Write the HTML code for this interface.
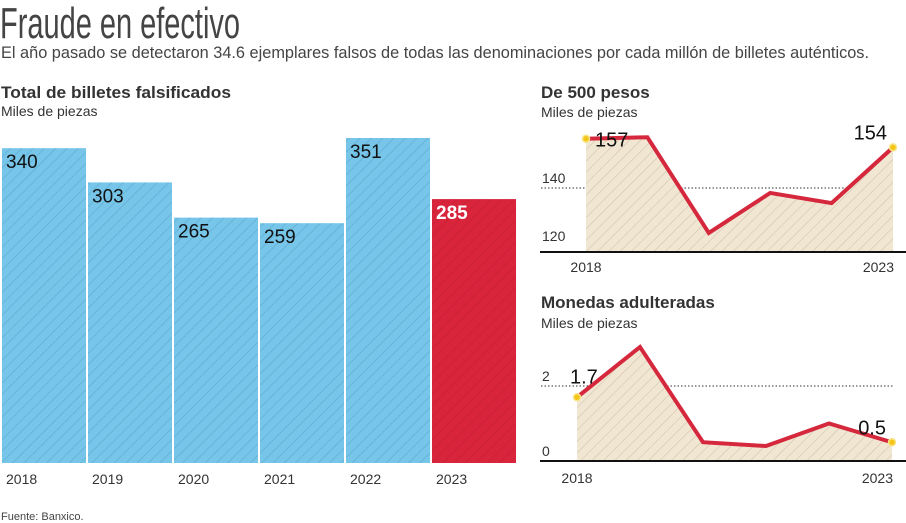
<!DOCTYPE html>
<html><head><meta charset="utf-8"><style>
html,body{margin:0;padding:0;background:#fff;width:906px;height:523px;overflow:hidden}
svg{display:block;font-family:"Liberation Sans",sans-serif}
</style></head><body>
<svg id="c" width="906" height="523" viewBox="0 0 906 523">
<defs>
<pattern id="hb" patternUnits="userSpaceOnUse" width="8" height="8" patternTransform="rotate(45)"><rect width="8" height="8" fill="#77c6ea"/><line x1="0" y1="0" x2="0" y2="8" stroke="#5aa9cf" stroke-width="1.2"/></pattern>
<pattern id="hr" patternUnits="userSpaceOnUse" width="8" height="8" patternTransform="rotate(45)"><rect width="8" height="8" fill="#d9253c"/><line x1="0" y1="0" x2="0" y2="8" stroke="#c41d33" stroke-width="1.2"/></pattern>
<pattern id="hs" patternUnits="userSpaceOnUse" width="8" height="8" patternTransform="rotate(45)"><rect width="8" height="8" fill="#f1e6d2"/><line x1="0" y1="0" x2="0" y2="8" stroke="#cbbfa8" stroke-width="1"/></pattern>
</defs>
<text x="0" y="38" font-size="44" fill="#444" textLength="240" lengthAdjust="spacingAndGlyphs">Fraude en efectivo</text>
<text x="1" y="58" font-size="17" fill="#444" textLength="868" lengthAdjust="spacingAndGlyphs">El año pasado se detectaron 34.6 ejemplares falsos de todas las denominaciones por cada millón de billetes auténticos.</text>
<text x="1" y="98" font-size="17" font-weight="bold" fill="#333" textLength="230" lengthAdjust="spacingAndGlyphs">Total de billetes falsificados</text>
<text x="1" y="116" font-size="14" fill="#333">Miles de piezas</text>
<text x="541" y="98" font-size="17" font-weight="bold" fill="#333">De 500 pesos</text>
<text x="541" y="117" font-size="14" fill="#333">Miles de piezas</text>
<text x="541" y="308" font-size="17" font-weight="bold" fill="#333">Monedas adulteradas</text>
<text x="541" y="328" font-size="14" fill="#333">Miles de piezas</text>
<text x="1" y="520" font-size="11" fill="#444">Fuente: Banxico.</text>
<g id="bars"></g><g id="p500"></g><g id="coins"></g>
</svg>
<script>
const barYears=["2018","2019","2020","2021","2022","2023"];
const barValues=[340,303,265,259,351,285];
const p500Years=["2018","2019","2020","2021","2022","2023"];
const p500Values=[157,157.5,124.5,138.3,134.8,154];
const p500Ticks=[120,140];
const coinYears=["2018","2019","2020","2021","2022","2023"];
const coinValues=[1.7,3.04,0.5,0.4,1.0,0.5];
const coinTicks=[0,2];
const NS="http://www.w3.org/2000/svg";
function mk(p,t,a){const e=document.createElementNS(NS,t);for(const k in a)e.setAttribute(k,a[k]);p.appendChild(e);return e;}
const gb=document.getElementById('bars');
const by=v=>463-v*0.926, bx=i=>2+i*86;
barValues.forEach((v,i)=>{
 const r=mk(gb,'rect',{x:bx(i),y:by(v),width:84,height:463-by(v),fill:i===barValues.length-1?'url(#hr)':'url(#hb)'});
 
 
 const t=mk(gb,'text',{x:bx(i)+4,y:by(v)+20,'font-size':19,fill:i===barValues.length-1?'#fff':'#111','font-weight':i===barValues.length-1?'bold':'normal'});
 t.textContent=v;
 
 
 const y=mk(gb,'text',{x:bx(i)+4,y:484,'font-size':14,fill:'#333'});
 y.textContent=barYears[i];
 
 
});
function lineChart(g,name,years,vals,ticks,x0,x1,yf,base,labelIdx,labelFmt,firstDx,firstDy,yearY){
 const xf=i=>x0+i*(x1-x0)/(vals.length-1);
 ticks.forEach(t=>{
  if(yf(t)<base-10){const l=mk(g,'line',{x1:541,x2:893,y1:yf(t),y2:yf(t),stroke:'#333','stroke-dasharray':'1.5 2','stroke-width':1});
  
  }
 });
 let d='M'+xf(0)+','+base;vals.forEach((v,i)=>d+=' L'+xf(i)+','+yf(v));d+=' L'+xf(vals.length-1)+','+base+'Z';
 const a=mk(g,'path',{d:d,fill:'url(#hs)'});
 
 
 ticks.forEach(t=>{const tx=mk(g,'text',{x:542,y:yf(t)-5,'font-size':14,fill:'#333'});tx.textContent=t;
  
  });
 const ax=mk(g,'line',{x1:540,x2:906,y1:base,y2:base,stroke:'#111','stroke-width':2});
 
 
 const ln=mk(g,'polyline',{points:vals.map((v,i)=>xf(i)+','+yf(v)).join(' '),fill:'none',stroke:'#d5283d','stroke-width':4,'stroke-linejoin':'miter'});
 
 
 [0,vals.length-1].forEach(i=>{const c=mk(g,'circle',{cx:xf(i),cy:yf(vals[i]),r:3.5,fill:'#f5c518',stroke:'#f8e48a','stroke-width':1.5});
  
  
  const ty=mk(g,'text',{x:i===0?xf(i):xf(i)+1,y:yearY,'font-size':14,fill:'#333','text-anchor':i===0?'middle':'end'});
  ty.textContent=years[i];
  
  });
 labelIdx.forEach((i,k)=>{
  const t=k===0?mk(g,'text',{x:xf(i)+firstDx,y:yf(vals[i])+firstDy,'font-size':20,fill:'#111'})
              :mk(g,'text',{x:xf(i)-6,y:yf(vals[i])-8,'font-size':20,fill:'#111','text-anchor':'end'});
  t.textContent=labelFmt(vals[i]);
  
  });
}
lineChart(document.getElementById('p500'),'p500',p500Years,p500Values,p500Ticks,586,893,v=>188-(v-140)*2.9,252,[0,5],v=>Math.round(v),9,8,272);
lineChart(document.getElementById('coins'),'coins',coinYears,coinValues,coinTicks,577,892,v=>461-v*37.5,461,[0,5],v=>v.toFixed(1),-7,-14,483);
</script>
</body></html>
